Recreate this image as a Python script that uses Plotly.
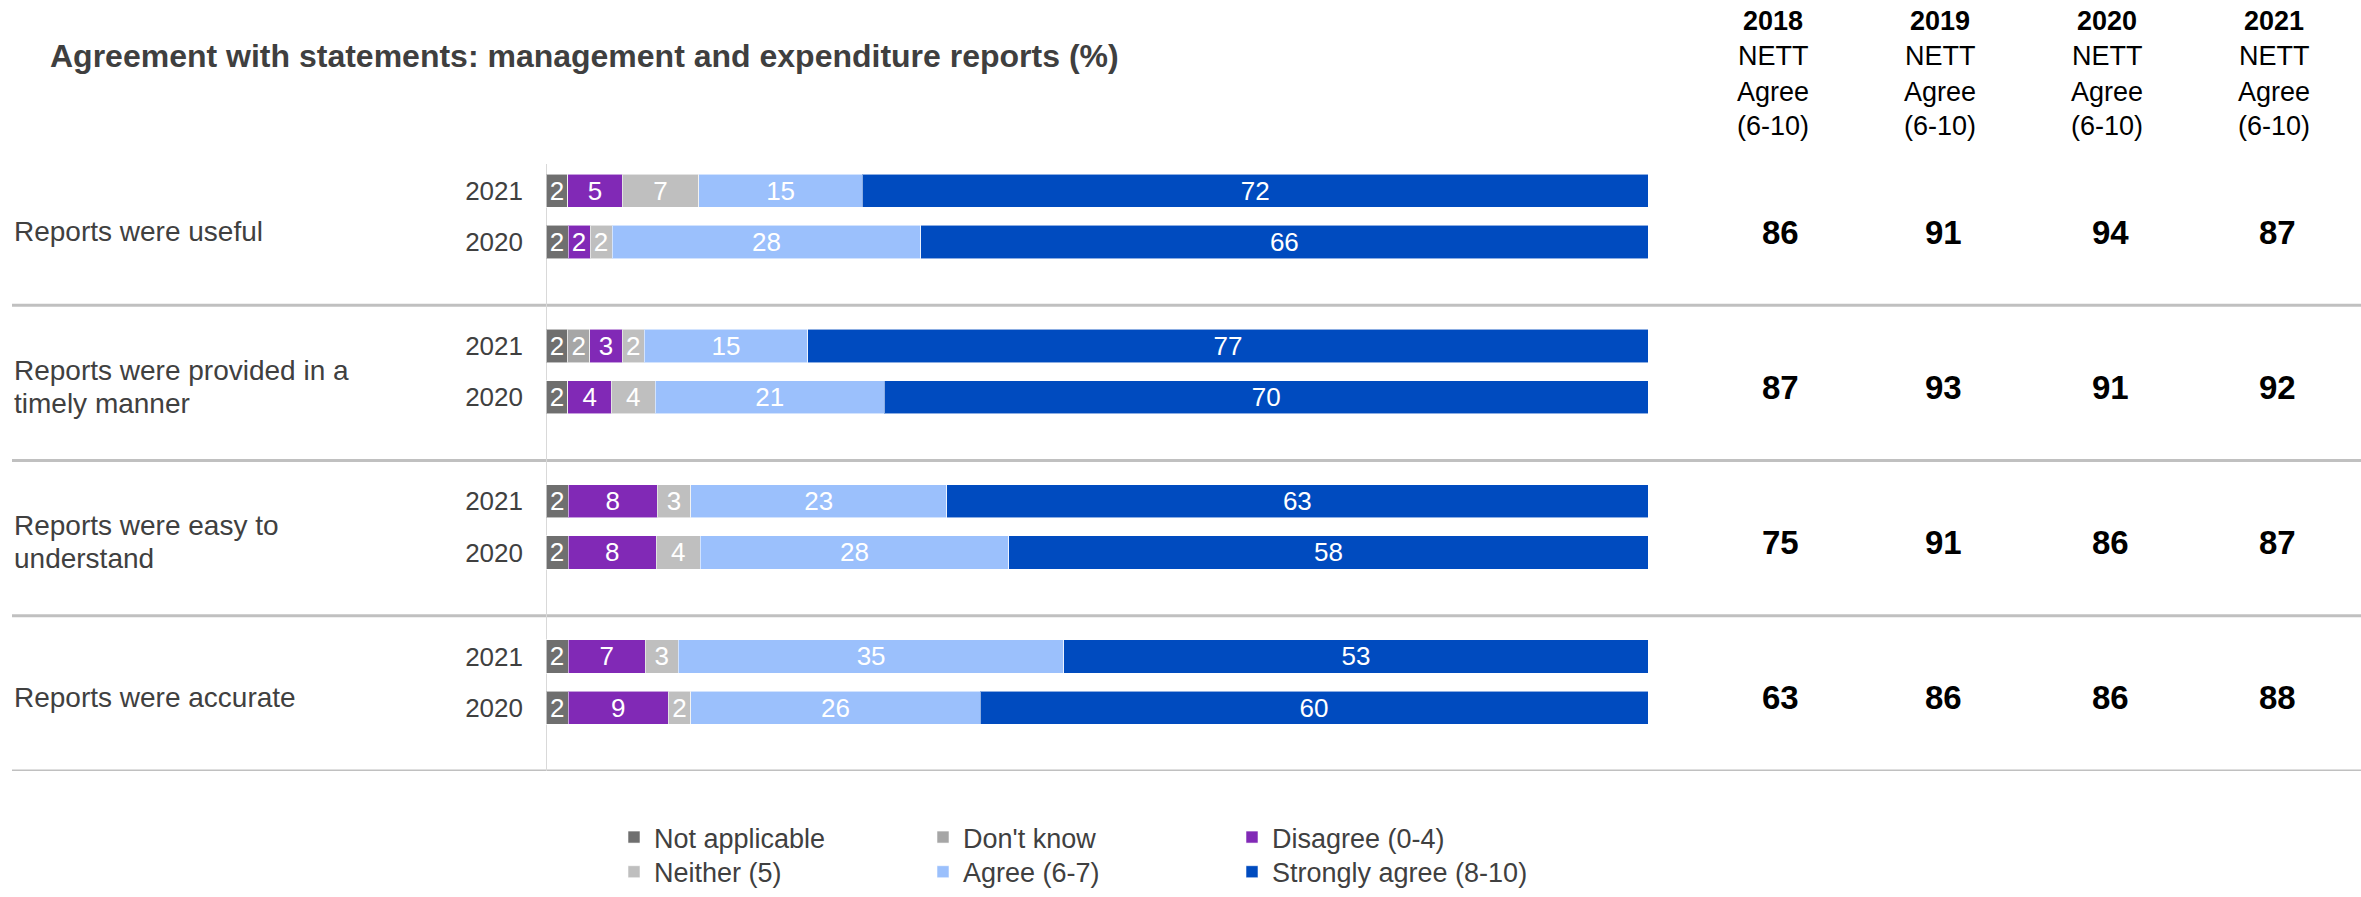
import plotly.graph_objects as go

# ---- data -------------------------------------------------------------
statements = [
    "Reports were useful",
    "Reports were provided in a<br>timely manner",
    "Reports were easy to<br>understand",
    "Reports were accurate",
]
years = ["2021", "2020"]

# one value per bar: (statement, year) in order 2021, 2020 for each statement
not_applicable = [2, 2, 2, 2, 2, 2, 2, 2]
dont_know = [0, 0, 2, 0, 0, 0, 0, 0]
disagree = [5, 2, 3, 4, 8, 8, 7, 9]
neither = [7, 2, 2, 4, 3, 4, 3, 2]
agree = [15, 28, 15, 21, 23, 28, 35, 26]
strongly_agree = [72, 66, 77, 70, 63, 58, 53, 60]

series_names = ["Not applicable", "Don't know", "Disagree (0-4)",
                "Neither (5)", "Agree (6-7)", "Strongly agree (8-10)"]
series_values = [not_applicable, dont_know, disagree, neither, agree, strongly_agree]
series_colors = ["#6f6f6f", "#a6a6a6", "#8129b6", "#bfbfbf", "#9bc0fc", "#004bbf"]

nett_years = ["2018", "2019", "2020", "2021"]
nett_2018 = [86, 87, 75, 63]
nett_2019 = [91, 93, 91, 86]
nett_2020 = [94, 91, 86, 86]
nett_2021 = [87, 92, 87, 88]
nett_values = [nett_2018, nett_2019, nett_2020, nett_2021]

# ---- layout constants (pixels) ---------------------------------------
W, H = 2361, 897
FONT = "Liberation Sans, Arial, sans-serif"
band_top_px, band_h_px = 151.5, 156.8
plot_left_px, plot_right_px = 546, 1648
year_offsets = [0.263, 0.593]     # bar centre within a statement band
bar_width = 0.213
header_x_px = [1773, 1940, 2107, 2274]
value_x_px = [1780, 1943, 2110, 2277]
header_y_px = [21, 57, 93, 127]
label_line_px = 33                 # line pitch of wrapped statement labels


def px_x(p):
    return p / W


def px_y(p):
    return 1 - p / H


bar_y = []
for g in range(len(statements)):
    for off in year_offsets:
        bar_y.append(g + off)
bar_year_labels = years * len(statements)

fig = go.Figure()

for i, (name, vals, col) in enumerate(zip(series_names, series_values, series_colors)):
    fig.add_trace(go.Bar(
        x=vals,
        y=bar_y,
        orientation="h",
        width=bar_width,
        name=name,
        marker=dict(color=col, line=dict(color="rgba(255,255,255,0.55)", width=1)),
        text=[str(v) if v else "" for v in vals],
        textposition="inside",
        insidetextanchor="middle",
        textangle=0,
        textfont=dict(color="white", size=26, family=FONT),
        legend="legend" if i < 3 else "legend2",
        hovertemplate=name + ": %{text}<extra></extra>",
    ))

n_bands = len(statements)
y_dom_top = px_y(band_top_px)
y_dom_bot = px_y(band_top_px + n_bands * band_h_px)

shapes = []
# separators under each statement band
for g in range(n_bands):
    shapes.append(dict(type="line", xref="paper", yref="y",
                       x0=px_x(12), x1=1, y0=g + 1, y1=g + 1,
                       line=dict(color="#c0c0c0", width=3), layer="below"))
# vertical base line of the bars
shapes.append(dict(type="line", xref="x", yref="y", x0=0, x1=0,
                   y0=0.09, y1=n_bands + 0.08,
                   line=dict(color="#d9d9d9", width=2), layer="below"))

annotations = []
line_step = label_line_px / band_h_px
for g, s in enumerate(statements):
    lines = s.split("<br>")
    first = g + 0.525 - line_step * (len(lines) - 1) / 2
    for li, t in enumerate(lines):
        annotations.append(dict(xref="paper", yref="y", x=px_x(12), y=first + li * line_step,
                                xanchor="left", yanchor="middle", align="left",
                                text=t, showarrow=False,
                                font=dict(family=FONT, size=28, color="#404040")))
    for c, vals in enumerate(nett_values):
        annotations.append(dict(xref="paper", yref="y", x=px_x(value_x_px[c]), y=g + 0.53,
                                xanchor="center", yanchor="middle",
                                text="<b>%d</b>" % vals[g], showarrow=False,
                                font=dict(family=FONT, size=33, color="#000000")))

header_lines = ["NETT", "Agree", "(6-10)"]
for c, yr in enumerate(nett_years):
    lines = ["<b>%s</b>" % yr] + header_lines
    for li, t in enumerate(lines):
        annotations.append(dict(xref="paper", yref="paper", x=px_x(header_x_px[c]),
                                y=px_y(header_y_px[li]), xanchor="center", yanchor="middle",
                                text=t, showarrow=False,
                                font=dict(family=FONT, size=27, color="#000000")))

legend_common = dict(orientation="h", xanchor="left", yanchor="middle",
                     entrywidth=264, entrywidthmode="pixels",
                     font=dict(family=FONT, size=27, color="#404040"),
                     bgcolor="rgba(0,0,0,0)", traceorder="normal",
                     itemclick=False, itemdoubleclick=False)

fig.update_layout(
    width=W, height=H,
    margin=dict(l=0, r=0, t=0, b=0),
    paper_bgcolor="white", plot_bgcolor="white",
    barmode="stack", barnorm="percent",
    title=dict(text="<b>Agreement with statements: management and expenditure reports (%)</b>",
               x=px_x(50), xanchor="left", y=px_y(56), yanchor="middle",
               xref="paper", yref="paper",
               font=dict(family=FONT, size=32, color="#3f3f3f")),
    xaxis=dict(domain=[px_x(plot_left_px), px_x(plot_right_px)], range=[0, 100],
               showgrid=False, zeroline=False, showticklabels=False, showline=False,
               fixedrange=True),
    yaxis=dict(domain=[y_dom_bot, y_dom_top], range=[n_bands, 0],
               tickmode="array", tickvals=bar_y, ticktext=bar_year_labels,
               ticks="", ticklabelstandoff=22,
               tickfont=dict(family=FONT, size=26, color="#404040"),
               showgrid=False, zeroline=False, showline=False, fixedrange=True),
    legend=dict(x=px_x(614), y=px_y(846), **legend_common),
    legend2=dict(x=px_x(614), y=px_y(881), **legend_common),
    shapes=shapes,
    annotations=annotations,
    uniformtext=dict(minsize=26, mode="show"),
    showlegend=True,
)

fig.write_html("out.html")
